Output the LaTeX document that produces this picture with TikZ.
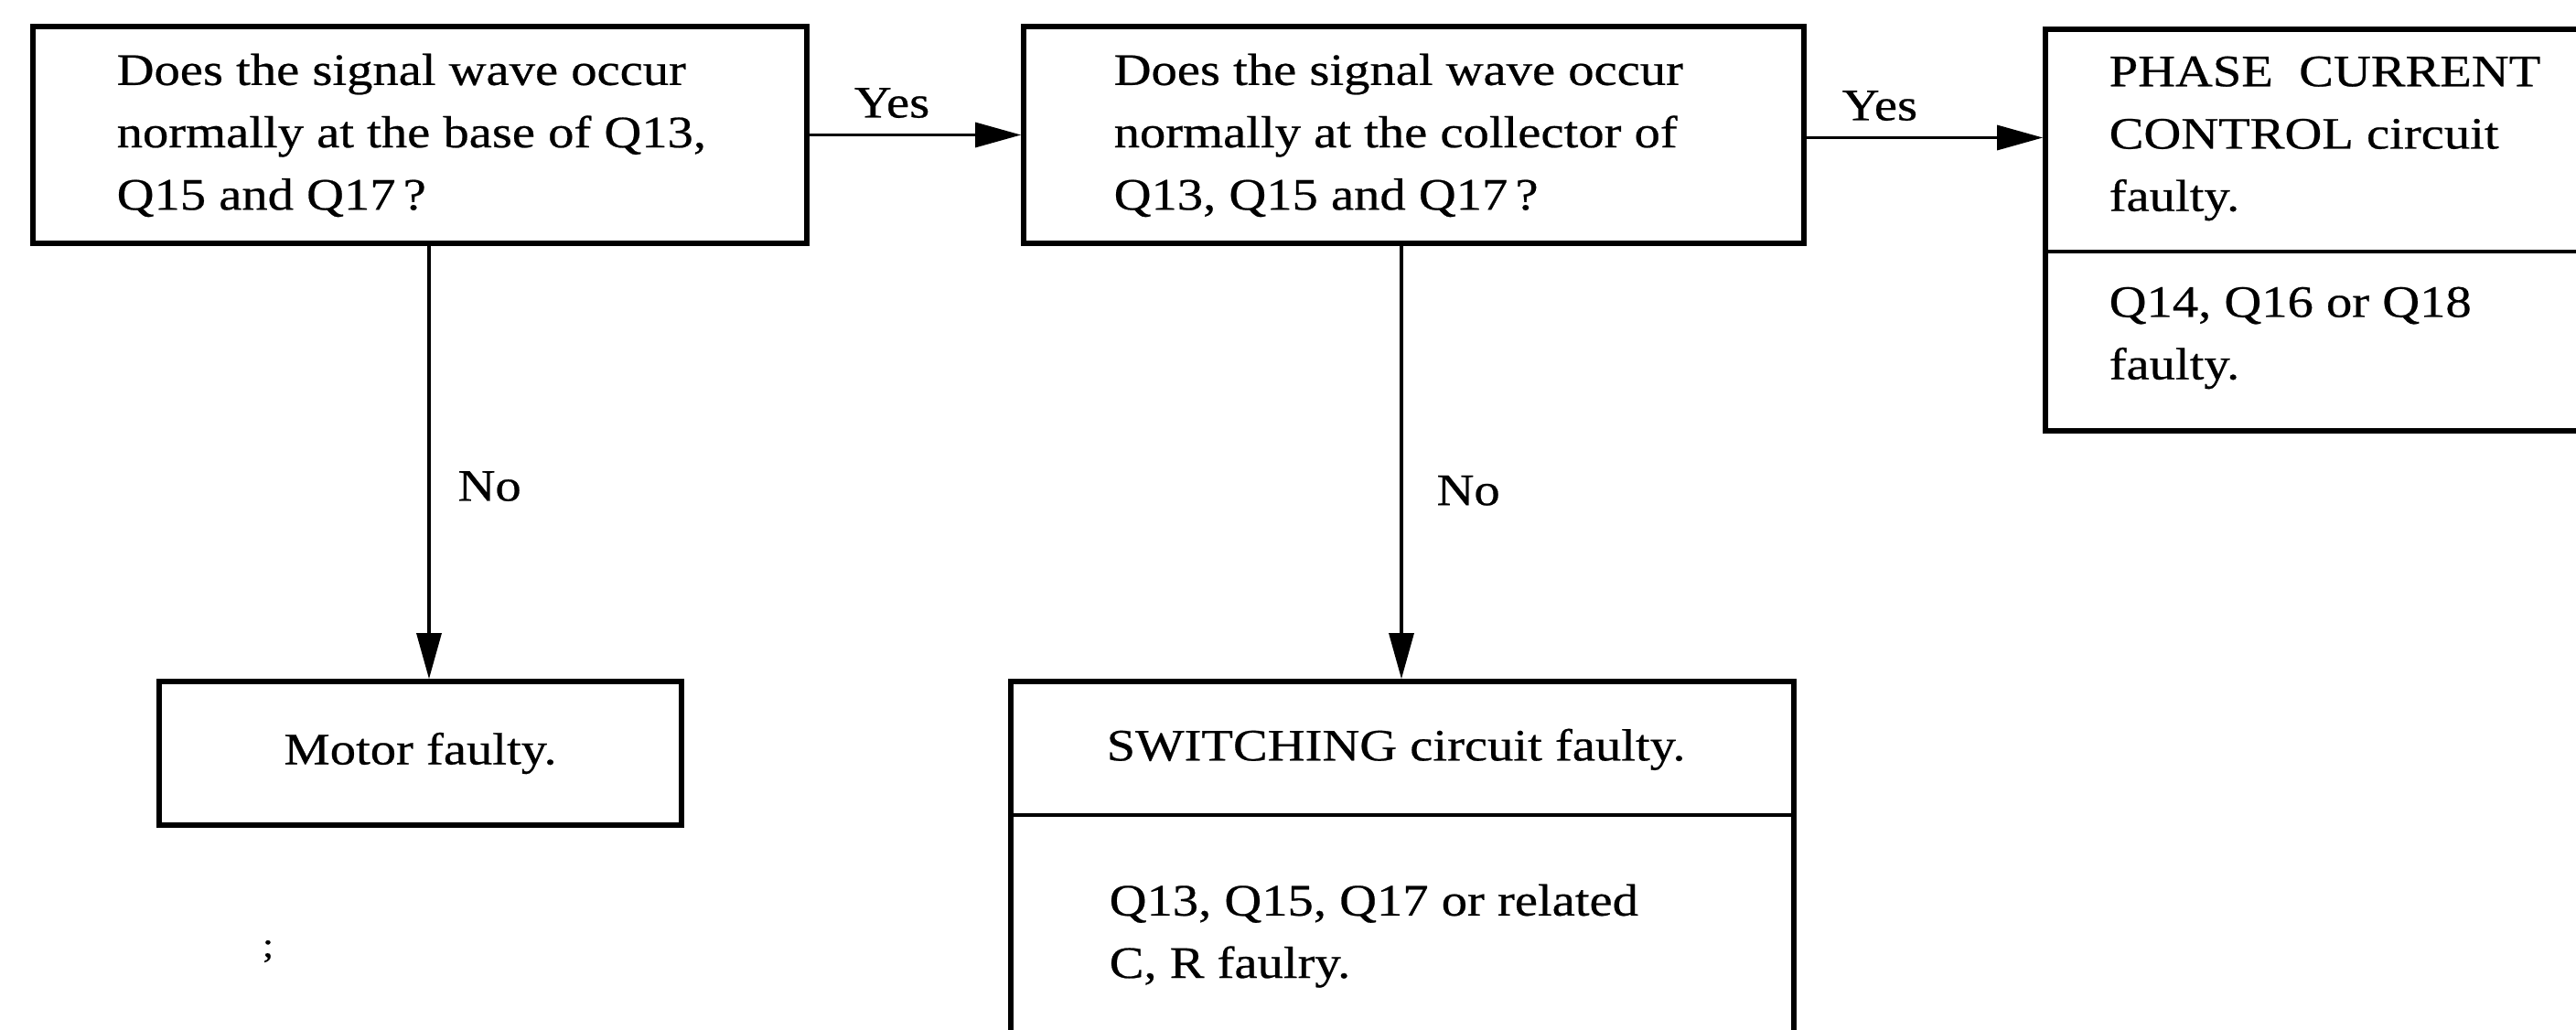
\documentclass[tikz,border=0pt]{standalone}
\usepackage{fontspec}
\setmainfont[FakeStretch=1.15,FakeBold=0.5]{Liberation Serif}
\usetikzlibrary{arrows.meta,calc}
\begin{document}
\begin{tikzpicture}[
  box/.style={draw, line width=1.6pt, rectangle, inner sep=0pt},
  txt/.style={inner sep=0pt, align=left, font=\fontsize{14}{19.4}\selectfont},
  lbl/.style={font=\fontsize{14}{19.4}\selectfont},
  arr/.style={line width=0.9pt, -{Triangle[length=5mm,width=2.7mm]}}
]
\useasboundingbox (0,0) rectangle (28.16,-11.26);
\clip (0,0) rectangle (28.16,-11.26);

% question boxes
\node[box, minimum width=8.46cm, minimum height=2.37cm] (q1) at (4.59,-1.475) {};
\node[txt, anchor=north west] (q1t) at (1.27,-0.58)
  {Does the signal wave occur\\normally at the base of Q13,\\Q15 and Q17\,?};

\node[box, minimum width=8.53cm, minimum height=2.37cm] (q2) at (15.455,-1.475) {};
\node[txt, anchor=north west] (q2t) at (12.17,-0.58)
  {Does the signal wave occur\\normally at the collector of\\Q13, Q15 and Q17\,?};

% phase current control box
\node[box, minimum width=6.64cm, minimum height=4.39cm] (pcc) at (25.68,-2.515) {};
\draw[line width=1.3pt] ($(pcc.west)+(0,-0.235)$) coordinate (pccdl) -- (pccdl -| pcc.east);
\node[txt, anchor=north west] (pcct) at (23.05,-0.61)
  {PHASE\ \ CURRENT\\CONTROL circuit\\faulty.};
\node[txt, anchor=north west] (pccb) at (23.05,-3.13)
  {Q14, Q16 or Q18\\faulty.};

% motor box
\node[box, minimum width=5.71cm, minimum height=1.57cm, txt] (mot) at (4.595,-8.235) {Motor faulty.};

% switching box
\node[box, minimum width=8.56cm, minimum height=4.55cm] (sw) at (15.33,-9.725) {};
\draw[line width=1.3pt] ($(sw.north west)+(0,-1.49)$) coordinate (swdl) -- (swdl -| sw.east);
\node[txt, anchor=north west] (swt) at (12.09,-7.96) {SWITCHING circuit\ faulty.};
\node[txt, anchor=north west] (swb) at (12.12,-9.66) {Q13, Q15, Q17 or related\\C, R faulry.};

% connectors
\draw[arr] (q1.east) -- node[lbl, above, pos=0.39, inner sep=0.17cm] (y1) {Yes} (q2.west);
\draw[arr] ([yshift=-0.03cm]q2.east) -- node[lbl, above, pos=0.31, inner sep=0.17cm] (y2) {Yes} ([yshift=-0.03cm]q2.east -| pcc.west);
\draw[arr] ([xshift=0.1cm]q1.south) -- node[lbl, right, pos=0.555, inner xsep=0.3cm] (n1) {No} ([xshift=0.1cm]q1.south |- mot.north);
\draw[arr] ([xshift=-0.135cm]q2.south) -- node[lbl, right, pos=0.565, inner xsep=0.37cm] (n2) {No} ([xshift=-0.135cm]q2.south |- sw.north);

% stray mark
\node[lbl, font=\fontsize{11}{12}\selectfont] (semi) at (2.93,-10.40) {;};
\end{tikzpicture}
\end{document}
